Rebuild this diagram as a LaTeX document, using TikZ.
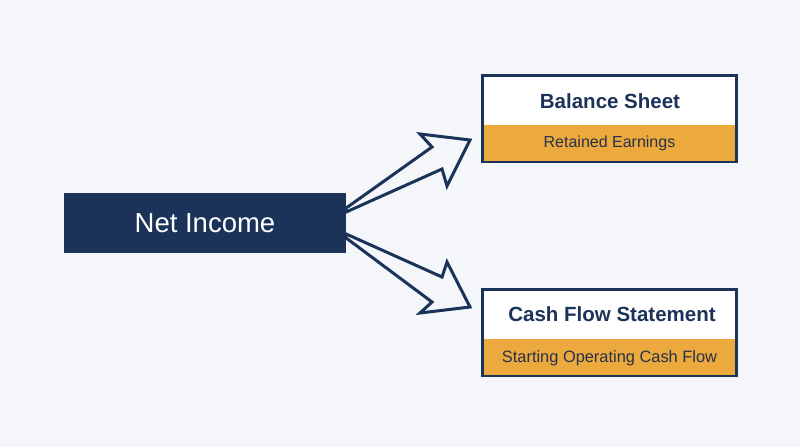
\documentclass[tikz,border=0pt]{standalone}
\usepackage{fontspec}
\setmainfont{Liberation Sans}
\definecolor{bg}{HTML}{F4F6F9}
\definecolor{navy}{HTML}{1C3359}
\definecolor{gold}{HTML}{ECA93E}
\definecolor{txt}{HTML}{27314A}
\tikzset{
  headbox/.style={draw=navy,line width=2pt,fill=white,minimum width=253pt,minimum height=85pt,inner sep=0pt},
  band/.style={fill=gold,minimum width=251pt,minimum height=38pt,inner sep=0pt},
  arrowline/.style={draw=navy,line width=3pt,fill=bg,line join=miter},
  title/.style={text=navy,font=\fontsize{20.5}{24}\selectfont\bfseries},
  sub/.style={text=txt,font=\fontsize{16}{19}\selectfont},
}
\begin{document}
\begin{tikzpicture}[x=1pt,y=-1pt]
\fill[bg] (0,0) rectangle (800,447);
\useasboundingbox (0,0) rectangle (800,447);
% Net Income
\node[fill=navy,minimum width=282pt,minimum height=60pt,inner sep=0pt,text=white,font=\fontsize{27.5}{32}\selectfont] (ni) at (205,223) {Net Income};
% arrows
\coordinate (a1) at ([yshift=15pt]ni.east);
\coordinate (a2) at ([yshift=11pt]ni.east);
\coordinate (b1) at ([yshift=-11pt]ni.east);
\coordinate (b2) at ([yshift=-15pt]ni.east);
\draw[arrowline] (a1) -- (432,147) -- (420,134) -- (470,140) -- (447,186) -- (442,169) -- (a2) -- cycle;
\draw[arrowline] (b2) -- (432,302) -- (420,313) -- (470,307) -- (447,262) -- (442,277) -- (b1) -- cycle;
\fill[navy] ([xshift=-4pt]ni.north east) rectangle (ni.south east);
% Balance sheet
\node[headbox] (bs) at (609.5,118.5) {};
\node[band,anchor=south] (bsb) at ([yshift=-1pt]bs.south) {};
\node[title] (bst) at (610,101) {Balance Sheet};
\node[sub] (bss) at (bsb.center) {Retained Earnings};
\draw[navy,line width=2pt] (bs.north west) rectangle (bs.south east);
% Cash flow
\node[headbox] (cf) at (609.5,332.5) {};
\node[band,anchor=south] (cfb) at ([yshift=-1pt]cf.south) {};
\node[title] (cft) at (612,314) {Cash Flow Statement};
\node[sub,font=\fontsize{16.4}{19}\selectfont] (cfs) at (cfb.center) {Starting Operating Cash Flow};
\draw[navy,line width=2pt] (cf.north west) rectangle (cf.south east);
\end{tikzpicture}
\end{document}
